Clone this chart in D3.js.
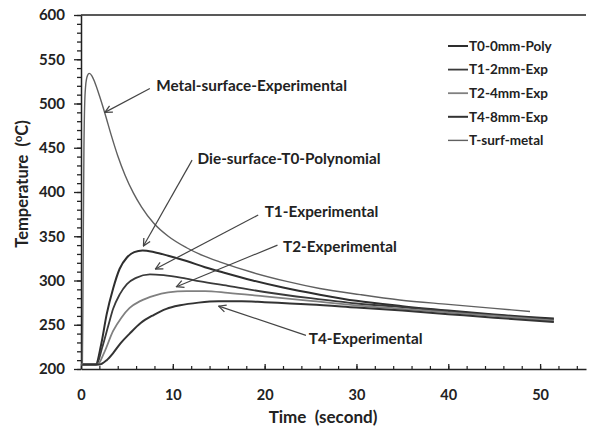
<!DOCTYPE html>
<html>
<head>
<meta charset="utf-8">
<script src="https://cdn.jsdelivr.net/npm/d3@7"></script>
<style>
  body { margin: 0; background: #fff; }
  svg { font-family: Lato, "Open Sans", sans-serif; font-weight: bold; }
</style>
</head>
<body>
<svg id="chart" width="596" height="428"></svg>
<script>
// ---- data (time in s, temperature in degC) ----
var metalTime = [0, 0.15, 0.22, 0.32, 0.45, 0.65, 0.9, 1.2, 1.5, 2.0, 2.6, 3.3, 4.0, 4.8, 5.7, 6.6, 7.9, 9.5, 11.5, 13.3, 15.1, 18.7, 22.4, 26.0, 30.4, 34.7, 40, 45, 48.9];
var metalTemp = [205, 206, 300, 450, 512, 530, 534, 531, 524, 509, 489, 464, 441, 419, 399, 383, 365, 350, 337, 328, 321, 309, 299, 291, 284, 278, 273, 268.5, 265];

var t0Time = [0, 1.6, 2.2, 2.8, 3.5, 4.2, 5.0, 5.8, 6.7, 8, 9.5, 11.5, 13.5, 15.5, 18.7, 22, 26, 30, 35, 40, 45, 51.5];
var t0Temp = [205, 205, 228, 262, 291, 313, 326, 332, 334, 332, 328, 322, 315, 309, 300, 292, 284, 277, 271, 266, 261.5, 257];

var t1Time = [0, 1.7, 2.3, 3.0, 3.5, 4.2, 5.0, 6.0, 7.5, 9, 11, 13, 16, 20, 25, 30, 35, 40, 45, 51.5];
var t1Temp = [205, 205, 224, 250, 268, 284, 296, 303, 307, 306, 303, 299, 294, 287, 280, 274, 270, 265, 261, 256];

var t2Time = [0, 1.8, 2.5, 3.5, 4.4, 5.3, 6.5, 8, 9.5, 11.5, 13.5, 16, 20, 25, 30, 35, 40, 45, 51.5];
var t2Temp = [205, 205, 218, 243, 258, 269, 277, 283, 286.5, 288, 288, 286, 282, 277, 272, 268, 264, 260, 254.5];

var t4Time = [0, 2.0, 2.8, 3.5, 4.3, 5.3, 6.5, 7.9, 9.3, 10.8, 12.8, 15, 17.5, 20, 25, 30, 35, 40, 45, 51.5];
var t4Temp = [205, 205, 210, 218, 229, 240, 252, 261, 268, 272, 275, 276.5, 276.5, 275.5, 273, 269.5, 266, 262, 258, 253];

var yTicks = [200, 250, 300, 350, 400, 450, 500, 550, 600];
var xTicks = [0, 10, 20, 30, 40, 50];

var legendNames = ['T0-0mm-Poly', 'T1-2mm-Exp', 'T2-4mm-Exp', 'T4-8mm-Exp', 'T-surf-metal'];

// annotation labels: text start (t,T), arrow tail (t,T), arrow head (t,T)
var notes = [
  {text: 'Metal-surface-Experimental', tx: 8.2, ty: 520, x1: 7.5, y1: 517, x2: 2.6, y2: 490},
  {text: 'Die-surface-T0-Polynomial', tx: 12.7, ty: 438, x1: 12.1, y1: 436, x2: 6.8, y2: 339},
  {text: 'T1-Experimental', tx: 20.0, ty: 378, x1: 19.3, y1: 374, x2: 8.1, y2: 313},
  {text: 'T2-Experimental', tx: 22.0, ty: 338, x1: 21.4, y1: 340, x2: 10.4, y2: 293},
  {text: 'T4-Experimental', tx: 24.8, ty: 234, x1: 24.5, y1: 238, x2: 15.0, y2: 271}
];

var series = [
  {name: legendNames[0], time: t0Time, temp: t0Temp, color: '#2e2e2e', w: 2},
  {name: legendNames[1], time: t1Time, temp: t1Temp, color: '#3a3a3a', w: 1.8},
  {name: legendNames[2], time: t2Time, temp: t2Temp, color: '#808080', w: 1.8},
  {name: legendNames[3], time: t4Time, temp: t4Temp, color: '#333', w: 2},
  {name: legendNames[4], time: metalTime, temp: metalTemp, color: '#606060', w: 1.4}
];

var svg = d3.select('#chart');
var x = d3.scaleLinear().domain([0, 55]).range([81, 586]);
var y = d3.scaleLinear().domain([200, 600]).range([369, 15]);

// top frame line
svg.append('line')
  .attr('x1', x(0)).attr('x2', x(55))
  .attr('y1', y(600)).attr('y2', y(600))
  .attr('stroke', '#222').attr('stroke-width', 1.5);

// y axis, minor ticks every 10
svg.append('g')
  .attr('transform', 'translate(' + x(0) + ',0)')
  .call(d3.axisLeft(y).tickValues(d3.range(200, 601, 10)).tickSize(4).tickFormat(''))
  .call(function(g){ g.select('.domain').remove(); })
  .selectAll('line').attr('stroke', '#222').attr('stroke-width', 1.3);

var yAxis = svg.append('g')
  .attr('transform', 'translate(' + x(0) + ',0)')
  .call(d3.axisLeft(y).tickValues(yTicks).tickSize(7).tickSizeOuter(0).tickPadding(9));
yAxis.select('.domain').attr('stroke', '#222').attr('stroke-width', 1.5);
yAxis.selectAll('line').attr('stroke', '#222').attr('stroke-width', 1.3);
yAxis.selectAll('text').attr('font-size', 15).attr('font-family', 'Lato').attr('font-weight', 'bold').attr('fill', '#222');

// x axis, ticks inward, minor every 2
svg.append('g')
  .attr('transform', 'translate(0,' + y(200) + ')')
  .call(d3.axisBottom(x).tickValues(d3.range(0, 55, 2)).tickSize(-3).tickFormat(''))
  .call(function(g){ g.select('.domain').remove(); })
  .selectAll('line').attr('stroke', '#222').attr('stroke-width', 1.2);

var xAxis = svg.append('g')
  .attr('transform', 'translate(0,' + y(200) + ')')
  .call(d3.axisBottom(x).tickValues(xTicks).tickSize(-5).tickSizeOuter(0).tickPadding(21));
xAxis.select('.domain').attr('stroke', '#222').attr('stroke-width', 1.5);
xAxis.selectAll('line').attr('stroke', '#222').attr('stroke-width', 1.3);
xAxis.selectAll('text').attr('font-size', 14.5).attr('font-family', 'Lato').attr('font-weight', 'bold').attr('fill', '#222');

// axis titles
svg.append('text')
  .attr('x', 323).attr('y', 423)
  .attr('text-anchor', 'middle').attr('font-size', 17).attr('fill', '#222')
  .attr('xml:space', 'preserve')
  .text('Time  (second)');

var yt = svg.append('text')
  .attr('transform', 'translate(28,184) rotate(-90)')
  .attr('text-anchor', 'middle').attr('font-size', 16.5).attr('fill', '#222')
  .attr('xml:space', 'preserve');
yt.append('tspan').text('Temperature  (');
yt.append('tspan').attr('font-size', 11).attr('dy', -6).text('o');
yt.append('tspan').attr('dy', 6).text('C)');

// curves
var line = d3.line()
  .x(function(d){ return x(d[0]); })
  .y(function(d){ return y(d[1]); })
  .curve(d3.curveMonotoneX);

series.forEach(function(s){
  var pts = d3.zip(s.time, s.temp);
  svg.append('path')
    .attr('d', line(pts))
    .attr('fill', 'none')
    .attr('stroke', s.color)
    .attr('stroke-width', s.w);
});

// arrow marker
svg.append('defs').append('marker')
  .attr('id', 'arr')
  .attr('viewBox', '0 0 10 10')
  .attr('refX', 9).attr('refY', 5)
  .attr('markerWidth', 9).attr('markerHeight', 9)
  .attr('markerUnits', 'userSpaceOnUse')
  .attr('orient', 'auto')
  .append('path')
  .attr('d', 'M1,1 L9,5 L1,9')
  .attr('fill', 'none').attr('stroke', '#444').attr('stroke-width', 1.4);

notes.forEach(function(n){
  svg.append('line')
    .attr('x1', x(n.x1)).attr('y1', y(n.y1))
    .attr('x2', x(n.x2)).attr('y2', y(n.y2))
    .attr('stroke', '#444').attr('stroke-width', 1.2)
    .attr('marker-end', 'url(#arr)');
  svg.append('text')
    .attr('x', x(n.tx)).attr('y', y(n.ty))
    .attr('dy', '0.35em')
    .attr('font-size', 15.3).attr('fill', '#222')
    .text(n.text);
});

// legend
var leg = svg.append('g');
series.forEach(function(s, i){
  var ly = 46 + i * 23.6;
  leg.append('line')
    .attr('x1', 448).attr('x2', 468)
    .attr('y1', ly).attr('y2', ly)
    .attr('stroke', s.color).attr('stroke-width', s.w);
  leg.append('text')
    .attr('x', 469).attr('y', ly)
    .attr('dy', '0.35em')
    .attr('font-size', 13.5).attr('fill', '#222')
    .text(s.name);
});
</script>
</body>
</html>
